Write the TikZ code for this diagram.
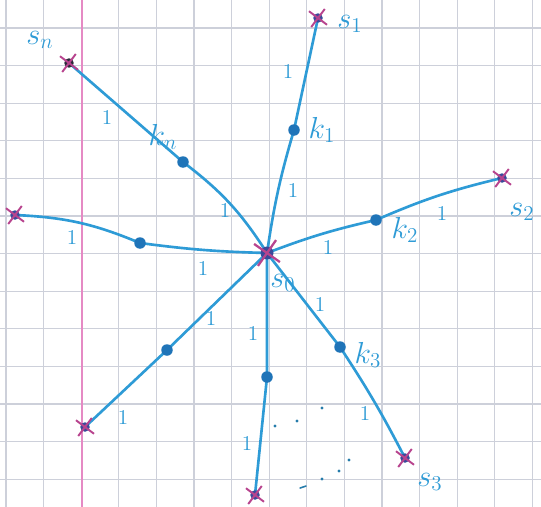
\documentclass[tikz,border=0pt]{standalone}
\usetikzlibrary{shapes.misc}
\definecolor{ink}{HTML}{2E9BD6}
\definecolor{dotblue}{HTML}{1F74B8}
\definecolor{xpink}{HTML}{B8448E}
\definecolor{hub}{HTML}{3A4A9A}
\definecolor{hubdark}{HTML}{2A2A3A}
\definecolor{gridc}{HTML}{CDD0DA}
\definecolor{margin}{HTML}{E58AC4}
\pgfdeclarelayer{bg}
\pgfsetlayers{bg,main}
\begin{document}
\begin{tikzpicture}[x=0.02cm,y=-0.02cm,
  edge/.style={ink, line width=1.5pt, line cap=round},
  knode/.style={circle, fill=dotblue, inner sep=0, minimum size=0.23cm},
  snode/.style={circle, fill=#1, inner sep=0, minimum size=0.19cm,
    label={[cross out, draw=xpink, line width=1.1pt, minimum size=0.28cm, inner sep=0, rotate=8]center:{}}},
  snode/.default=hub,
  hubnode/.style={circle, fill=hub, inner sep=0, minimum size=0.26cm,
    label={[cross out, draw=xpink, line width=1.3pt, minimum size=0.4cm, inner sep=0, rotate=10]center:{}}},
  lab/.style={text=ink, font=\fontsize{17}{20}\selectfont, inner sep=0},
  w/.style={text=ink, font=\fontsize{12}{14}\selectfont, inner sep=0},
  speck/.style={fill=ink!80!black}
]
\useasboundingbox (0,0) rectangle (541,507);

% nodes
\node[hubnode] (s0) at (267,253) {};
\node[snode] (s1) at (318,18) {};
\node[knode] (k1) at (294,130) {};
\node[snode] (s2) at (502,178) {};
\node[knode] (k2) at (376,220) {};
\node[snode] (s3) at (405,458) {};
\node[knode] (k3) at (340,347) {};
\node[snode] (s4) at (255,495) {};
\node[knode] (k4) at (267,377) {};
\node[snode] (s5) at (85,427) {};
\node[knode] (k5) at (167,350) {};
\node[snode] (s6) at (15,215) {};
\node[knode] (k6) at (140,243) {};
\node[snode=hubdark] (sn) at (69,63) {};
\node[knode] (kn) at (183,162) {};

\begin{pgfonlayer}{bg}
% grid paper
\fill[white] (0,0) rectangle (541,507);
\foreach \i in {0,...,14} \draw[gridc, line width=0.7pt] ({6+37.6*\i},0) -- ({6+37.6*\i},507);
\foreach \i in {0,...,12} \draw[gridc, line width=0.7pt] (0,{28+37.6*\i}) -- (541,{28+37.6*\i});
\draw[margin, line width=1.1pt] (82,0) -- (82,507);
% edges
\draw[edge] (s0.center) to[bend left=4] (k1.center) -- (s1.center);
\draw[edge] (s0.center) to[bend left=4] (k2.center) to[bend left=5] (s2.center);
\draw[edge] (s0.center) -- (k3.center) to[bend left=3] (s3.center);
\draw[edge] (s0.center) -- (k4.center) -- (s4.center);
\draw[edge] (s0.center) -- (k5.center) -- (s5.center);
\draw[edge] (s0.center) to[bend left=3] (k6.center) to[bend right=10] (s6.center);
\draw[edge] (sn.center) -- (kn.center) to[bend left=10] (s0.center);
\end{pgfonlayer}

% vertex labels
\node[lab] (ls0) at (283,283) {$s_0$};
\node[lab] (ls1) at (350,24) {$s_1$};
\node[lab] (lk1) at (322,130) {$k_1$};
\node[lab] (ls2) at (522,212) {$s_2$};
\node[lab] (lk2) at (405,230) {$k_2$};
\node[lab] (lk3) at (368,355) {$k_3$};
\node[lab] (ls3) at (430,482) {$s_3$};
\node[lab] (lsn) at (40,40) {$s_n$};
\node[lab] (lkn) at (163,137) {$k_n$};

% edge weights
\node[w] (w1) at (288,71) {1};
\node[w] (w2) at (293,190) {1};
\node[w] (w3) at (442,213) {1};
\node[w] (w4) at (328,247) {1};
\node[w] (w5) at (320,304) {1};
\node[w] (w6) at (365,413) {1};
\node[w] (w7) at (253,333) {1};
\node[w] (w8) at (247,443) {1};
\node[w] (w9) at (211,318) {1};
\node[w] (w10) at (123,417) {1};
\node[w] (w11) at (203,268) {1};
\node[w] (w12) at (72,237) {1};
\node[w] (w13) at (107,117) {1};
\node[w] (w14) at (225,210) {1};

% dots between branches
\foreach \p in {(322,408),(297,421),(275,426),(349,460),(339,471),(322,479)}
  \fill[speck] \p circle (1.6);
\draw[ink!80!black, line width=0.9pt, line cap=round] (300,488) -- (306,486);
\end{tikzpicture}
\end{document}
